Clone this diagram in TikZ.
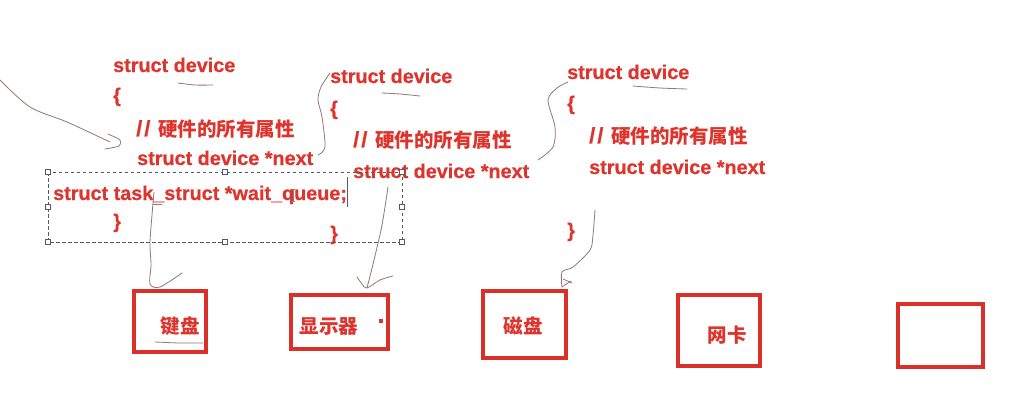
\documentclass[tikz,border=0pt]{standalone}
\usepackage{fontspec}
\setmainfont{Liberation Sans}[BoldFeatures={FakeBold=0.6}]
\newfontfamily\cjk{Noto Sans CJK SC}
\definecolor{codered}{RGB}{222,52,46}
\definecolor{boxred}{RGB}{217,48,42}
\definecolor{pen}{RGB}{150,118,118}
\definecolor{selgray}{RGB}{90,90,90}
\begin{document}
\begin{tikzpicture}[x=1pt,y=-1pt,
  code/.style={anchor=base west,inner sep=0pt,text=codered,font=\fontsize{19.8}{22}\selectfont\bfseries},
  lbl/.style={anchor=center,inner sep=0pt,text=codered,font=\fontsize{19.5}{22}\selectfont\cjk\bfseries},
  devbox/.style={draw=boxred,line width=3.1pt},
  penline/.style={draw=pen,line width=0.8pt,line cap=round,line join=round},
  handle/.style={draw=selgray,fill=white,line width=0.6pt,minimum size=5pt,inner sep=0pt,rectangle}
]
\useasboundingbox[fill=white] (0,0) rectangle (1010,408);
\newcommand{\zh}[1]{{\cjk\fontsize{19.5}{22}\selectfont #1}}
\newcommand{\slashes}{\hbox to 22pt{\fontsize{22}{22}\selectfont/\hspace{2pt}/\hss}}

% ---- block 1
\node[code] (a1) at (113,72) {struct device};
\node[code] (a2) at (113,102) {\{};
\node[code] (a3) at (136,136) {\slashes\zh{硬件的所有属性}};
\node[code] (a4) at (137,165) {struct device *next};
\node[code] (a5) at (53,200) {struct task\_struct *wait\_queue;};
\node[code] (a6) at (113,228) {\}};

% ---- block 2
\node[code] (b1) at (330,83) {struct device};
\node[code] (b2) at (330,115) {\{};
\node[code] (b3) at (353,147) {\slashes\zh{硬件的所有属性}};
\node[code] (b4) at (353,178) {struct device *next};
\node[code] (b6) at (330,240) {\}};

% ---- block 3
\node[code] (c1) at (567,79) {struct device};
\node[code] (c2) at (567,110) {\{};
\node[code] (c3) at (589,143) {\slashes\zh{硬件的所有属性}};
\node[code] (c4) at (589,174) {struct device *next};
\node[code] (c6) at (567,237) {\}};

% ---- selection frame
\coordinate (s1) at (48,172);
\coordinate (s2) at (402,242);
\draw[selgray,line width=0.7pt,dash pattern=on 3.5pt off 2.5pt] (s1) rectangle (s2);
\foreach \p in {(48,172),(225,172),(402,172),(48,207),(402,207),(48,242),(225,242),(402,242)}
  \node[handle] at \p {};
% text cursor and I-beam
\draw[selgray,line width=0.6pt] (347,177) -- (347,207);
\draw[pen,line width=0.6pt] (293,189) -- (293,201) (291,189) -- (295,189) (291,201) -- (295,201);

% ---- device boxes
\draw[devbox] (134,291) rectangle (206,352);
\draw[devbox] (291,295) rectangle (388,349);
\draw[devbox] (483,291) rectangle (566,358);
\draw[devbox] (678,295) rectangle (760,366);
\draw[devbox] (898,304) rectangle (983,367);
\node[lbl] (k1) at (180,326) {键盘};
\node[lbl] (k2) at (329,326) {显示器};
\fill[codered] (379,319) rectangle (383,323);
\node[lbl] (k3) at (523,326) {磁盘};
\node[lbl] (k4) at (727,335) {网卡};

% ---- hand-drawn pen strokes
% top-left arrow
\draw[penline] plot[smooth] coordinates {(0,80) (30,107) (67,122) (110,142)};
\draw[penline] plot[smooth] coordinates {(108,134) (120,140) (119,146) (105,149)};
% underlines
\draw[penline] plot[smooth] coordinates {(178,83) (195,85) (213,85)};
\draw[penline] plot[smooth] coordinates {(382,93) (400,94) (420,96)};
\draw[penline] plot[smooth] coordinates {(633,86) (660,88) (687,89)};
\draw[penline] plot[smooth] coordinates {(155,342) (180,343) (203,343)};
% next -> block 2
\draw[penline] plot[smooth] coordinates {(318,155) (325,147) (322,117) (318,100) (321,87) (330,73)};
% next -> block 3
\draw[penline] plot[smooth] coordinates {(538,160) (553,147) (555,127) (548,100) (557,88) (568,82)};
% block 1 -> keyboard
\draw[penline] (153,204) -- (162,204);
\draw[penline] plot[smooth] coordinates {(154,192) (152,215) (150,243) (151,265) (150,284) (160,287) (182,273)};
% block 2 -> display
\draw[penline] plot[smooth] coordinates {(388,187) (382,225) (374,260) (367,288)};
\draw[penline] plot[smooth] coordinates {(357,277) (362,284) (367,288) (380,280) (393,276)};
% block 3 -> disk
\draw[penline] plot[smooth] coordinates {(595,210) (593,235) (590,250) (573,267) (562,272) (562,287)};
\draw[penline] (562,287) -- (571,281);
\draw[penline] (563,279) -- (572,283);
\end{tikzpicture}
\end{document}
